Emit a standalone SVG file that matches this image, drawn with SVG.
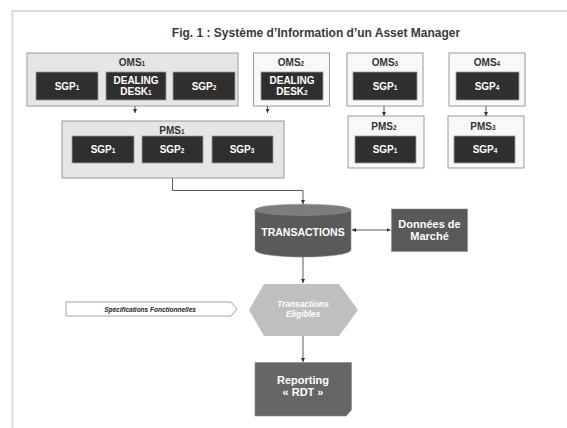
<svg xmlns="http://www.w3.org/2000/svg" width="567" height="428" viewBox="0 0 567 428">
<defs>
<style>
text{font-family:"Liberation Sans",Arial,sans-serif;font-weight:bold;text-anchor:middle}
.frame{fill:none;stroke:#dcdcdc;stroke-width:2}
.grp{fill:#e6e6e6;stroke:#9a9a9a;stroke-width:1}
.wbox{fill:#f8f8f8;stroke:#9a9a9a;stroke-width:1}
.dark{fill:#2f2f2f;stroke:#9a9a9a;stroke-width:0.8}
.lbl{font-size:10px;fill:#333}
.wt{font-size:10px;fill:#fff}
.sub{font-size:6.5px}
.conn{fill:none;stroke:#333;stroke-width:0.8}
</style>
<marker id="ah" viewBox="0 0 6 6" refX="6" refY="3" markerWidth="5" markerHeight="5" orient="auto-start-reverse">
<path d="M0,0 L6,3 L0,6 z" fill="#333"/>
</marker>
</defs>
<rect width="567" height="428" fill="#fff"/>
<path class="frame" d="M12.5,428 V11 H567"/>
<text x="316" y="37" style="font-size:12px;fill:#3a3a3a">Fig. 1 : Système d’Information d’un Asset Manager</text>

<g id="oms1">
<rect class="grp" x="27" y="53" width="211" height="53"/>
<text class="lbl" x="132" y="66">OMS<tspan class="sub">1</tspan></text>
<rect class="dark" x="36" y="72" width="62" height="28"/>
<text class="wt" x="67" y="89.5">SGP<tspan class="sub">1</tspan></text>
<rect class="dark" x="106" y="72" width="60" height="28"/>
<text class="wt" x="136" y="84">DEALING</text>
<text class="wt" x="136" y="95">DESK<tspan class="sub">1</tspan></text>
<rect class="dark" x="173" y="72" width="62" height="28"/>
<text class="wt" x="204" y="89.5">SGP<tspan class="sub">2</tspan></text>
</g>
<g id="oms2">
<rect class="wbox" x="253.5" y="53" width="76" height="53"/>
<text class="lbl" x="291" y="66">OMS<tspan class="sub">2</tspan></text>
<rect class="dark" x="261" y="72" width="62" height="28"/>
<text class="wt" x="292" y="84">DEALING</text>
<text class="wt" x="292" y="95">DESK<tspan class="sub">2</tspan></text>
</g>
<g id="oms3">
<rect class="wbox" x="347" y="53" width="76" height="53"/>
<text class="lbl" x="385" y="66">OMS<tspan class="sub">3</tspan></text>
<rect class="dark" x="353" y="72" width="64" height="28"/>
<text class="wt" x="385" y="89.5">SGP<tspan class="sub">1</tspan></text>
</g>
<g id="oms4">
<rect class="wbox" x="449" y="53" width="76" height="53"/>
<text class="lbl" x="487" y="66">OMS<tspan class="sub">4</tspan></text>
<rect class="dark" x="456" y="72" width="63" height="28"/>
<text class="wt" x="487" y="89.5">SGP<tspan class="sub">4</tspan></text>
</g>
<g id="pms1">
<rect class="grp" x="62" y="121" width="222" height="57"/>
<text class="lbl" x="172" y="134">PMS<tspan class="sub">1</tspan></text>
<rect class="dark" x="72" y="136" width="62" height="27"/>
<text class="wt" x="103" y="153">SGP<tspan class="sub">1</tspan></text>
<rect class="dark" x="142" y="136" width="61" height="27"/>
<text class="wt" x="172" y="153">SGP<tspan class="sub">2</tspan></text>
<rect class="dark" x="212" y="136" width="61" height="27"/>
<text class="wt" x="242" y="153">SGP<tspan class="sub">3</tspan></text>
</g>
<g id="pms2">
<rect class="wbox" x="348" y="116" width="76" height="52"/>
<text class="lbl" x="384" y="129.5">PMS<tspan class="sub">2</tspan></text>
<rect class="dark" x="355" y="136" width="61" height="27"/>
<text class="wt" x="385" y="153">SGP<tspan class="sub">1</tspan></text>
</g>
<g id="pms3">
<rect class="wbox" x="448" y="116" width="76" height="52"/>
<text class="lbl" x="483" y="129.5">PMS<tspan class="sub">3</tspan></text>
<rect class="dark" x="454" y="136" width="61" height="27"/>
<text class="wt" x="485" y="153">SGP<tspan class="sub">4</tspan></text>
</g>
<g id="transactions">
<path d="M255,209.8 V250 A48,7 0 0 0 351,250 V209.8 z" fill="#5a5a5a" stroke="#8a8a8a" stroke-width="0.6"/>
<ellipse cx="303" cy="209.8" rx="48" ry="5.6" fill="#7d7d7d" stroke="#8a8a8a" stroke-width="0.6"/>
<text x="303" y="236" style="font-size:10.5px;fill:#fff">TRANSACTIONS</text>
</g>
<g id="donnees">
<rect x="391.5" y="209" width="76" height="42.5" fill="#595959" stroke="#8a8a8a" stroke-width="0.6"/>
<text x="429.5" y="228" style="font-size:11px;fill:#fff">Données de</text>
<text x="429.5" y="240" style="font-size:11px;fill:#fff">Marché</text>
</g>
<g id="specs">
<path d="M66,302 H231 L237,309 L231,316 H66 z" fill="#fff" stroke="#8a8a8a" stroke-width="0.8"/>
<text x="150" y="311.5" style="font-size:6.5px;font-style:italic;fill:#222">Spécifications Fonctionnelles</text>
</g>
<g id="eligibles">
<path d="M249,310 L264,284 H339 L358,310 L339,336 H264 z" fill="#bfbfbf"/>
<text x="303" y="307" style="font-size:8.3px;font-style:italic;fill:#fff">Transactions</text>
<text x="303" y="316.5" style="font-size:8.3px;font-style:italic;fill:#fff">Eligibles</text>
</g>
<g id="reporting">
<path d="M255,362.5 H351.5 V410 L346,416 H255 z" fill="#666" stroke="#8a8a8a" stroke-width="0.6"/>
<text x="303" y="384" style="font-size:11px;fill:#fff">Reporting</text>
<text x="303" y="396" style="font-size:11px;fill:#fff">« RDT »</text>
</g>
<g id="connectors">
<path class="conn" d="M135,106 V113" marker-end="url(#ah)"/>
<path class="conn" d="M267.5,106 V113" marker-end="url(#ah)"/>
<path class="conn" d="M384,106 V116" marker-end="url(#ah)"/>
<path class="conn" d="M486,106 V116" marker-end="url(#ah)"/>
<path class="conn" d="M172.5,178 V190.5 H303 V204" marker-end="url(#ah)"/>
<path class="conn" d="M352,230 H390.5" marker-start="url(#ah)" marker-end="url(#ah)"/>
<path class="conn" d="M303,257 V283" marker-end="url(#ah)"/>
<path class="conn" d="M303,336 V362" marker-end="url(#ah)"/>
</g>
</svg>
